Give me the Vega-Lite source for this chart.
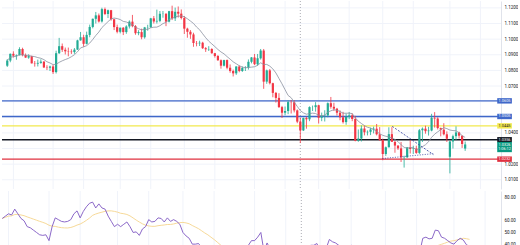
{
"$schema":"https://vega.github.io/schema/vega-lite/v6.json",
"background":"white","padding":0,"spacing":0,
"config":{"view":{"stroke":null},"font":"Roboto","text":{"font":"Roboto"},"axis":{"labelFont":"Roboto"}},
"datasets":{
"k":[
{"i":-1,"o":1.0830,"h":1.0872,"l":1.0822,"c":1.0863,"r":62},
{"i":0,"o":1.0863,"h":1.0908,"l":1.0852,"c":1.0906,"r":64},
{"i":1,"o":1.0906,"h":1.0922,"l":1.0882,"c":1.0894,"r":66},
{"i":2,"o":1.0894,"h":1.0902,"l":1.0868,"c":1.0898,"r":65},
{"i":3,"o":1.0898,"h":1.0948,"l":1.0895,"c":1.0937,"r":70},
{"i":4,"o":1.0937,"h":1.0945,"l":1.0890,"c":1.0898,"r":66},
{"i":5,"o":1.0898,"h":1.0908,"l":1.0880,"c":1.0882,"r":62},
{"i":6,"o":1.0882,"h":1.0903,"l":1.0874,"c":1.0891,"r":60},
{"i":7,"o":1.0891,"h":1.0894,"l":1.0844,"c":1.0845,"r":55},
{"i":8,"o":1.0845,"h":1.0860,"l":1.0824,"c":1.0843,"r":54},
{"i":9,"o":1.0843,"h":1.0869,"l":1.0825,"c":1.0848,"r":52},
{"i":10,"o":1.0848,"h":1.0871,"l":1.0842,"c":1.0856,"r":50},
{"i":11,"o":1.0856,"h":1.0859,"l":1.0815,"c":1.0819,"r":48},
{"i":12,"o":1.0819,"h":1.0833,"l":1.0802,"c":1.0817,"r":47.5},
{"i":13,"o":1.0817,"h":1.0830,"l":1.0796,"c":1.0825,"r":48},
{"i":14,"o":1.0825,"h":1.0834,"l":1.0777,"c":1.0789,"r":43},
{"i":15,"o":1.0789,"h":1.0926,"l":1.0780,"c":1.0910,"r":55},
{"i":16,"o":1.0910,"h":1.1008,"l":1.0905,"c":1.0955,"r":62.5},
{"i":17,"o":1.0955,"h":1.0972,"l":1.0918,"c":1.0932,"r":61},
{"i":18,"o":1.0932,"h":1.0946,"l":1.0902,"c":1.0922,"r":59.5},
{"i":19,"o":1.0922,"h":1.0946,"l":1.0890,"c":1.0920,"r":59},
{"i":20,"o":1.0920,"h":1.0935,"l":1.0905,"c":1.0917,"r":59.5},
{"i":21,"o":1.0917,"h":1.0943,"l":1.0906,"c":1.0933,"r":61},
{"i":22,"o":1.0933,"h":1.0996,"l":1.0931,"c":1.0992,"r":66},
{"i":23,"o":1.0992,"h":1.1046,"l":1.0990,"c":1.1012,"r":68.5},
{"i":24,"o":1.1012,"h":1.1028,"l":1.0951,"c":1.0970,"r":62.5},
{"i":25,"o":1.0970,"h":1.1048,"l":1.0966,"c":1.1027,"r":68},
{"i":26,"o":1.1027,"h":1.1093,"l":1.1012,"c":1.1078,"r":72},
{"i":27,"o":1.1078,"h":1.1132,"l":1.1069,"c":1.1130,"r":75},
{"i":28,"o":1.1130,"h":1.1174,"l":1.1100,"c":1.1152,"r":76},
{"i":29,"o":1.1152,"h":1.1164,"l":1.1106,"c":1.1113,"r":71},
{"i":30,"o":1.1113,"h":1.1201,"l":1.1106,"c":1.1192,"r":74.5},
{"i":31,"o":1.1192,"h":1.1202,"l":1.1154,"c":1.1161,"r":71},
{"i":32,"o":1.1161,"h":1.1189,"l":1.1135,"c":1.1185,"r":70},
{"i":33,"o":1.1185,"h":1.1187,"l":1.1118,"c":1.1127,"r":64},
{"i":34,"o":1.1127,"h":1.1130,"l":1.1058,"c":1.1077,"r":59.5},
{"i":35,"o":1.1077,"h":1.1093,"l":1.1037,"c":1.1047,"r":55},
{"i":36,"o":1.1047,"h":1.1074,"l":1.1037,"c":1.1073,"r":57},
{"i":37,"o":1.1073,"h":1.1077,"l":1.1026,"c":1.1045,"r":55},
{"i":38,"o":1.1045,"h":1.1089,"l":1.1034,"c":1.1081,"r":57},
{"i":39,"o":1.1081,"h":1.1120,"l":1.1068,"c":1.1112,"r":59},
{"i":40,"o":1.1112,"h":1.1155,"l":1.1076,"c":1.1083,"r":55},
{"i":41,"o":1.1083,"h":1.1090,"l":1.1028,"c":1.1038,"r":50},
{"i":42,"o":1.1038,"h":1.1057,"l":1.1025,"c":1.1045,"r":50.5},
{"i":43,"o":1.1045,"h":1.1067,"l":1.0999,"c":1.1012,"r":47.5},
{"i":44,"o":1.1012,"h":1.1078,"l":1.1003,"c":1.1075,"r":53},
{"i":45,"o":1.1075,"h":1.1092,"l":1.1054,"c":1.1076,"r":55},
{"i":46,"o":1.1076,"h":1.1136,"l":1.1072,"c":1.1133,"r":61},
{"i":47,"o":1.1133,"h":1.1148,"l":1.1100,"c":1.1113,"r":59},
{"i":48,"o":1.1113,"h":1.1189,"l":1.1100,"c":1.1117,"r":59.5},
{"i":49,"o":1.1117,"h":1.1180,"l":1.1108,"c":1.1162,"r":62.5},
{"i":50,"o":1.1162,"h":1.1180,"l":1.1137,"c":1.1163,"r":62},
{"i":51,"o":1.1163,"h":1.1164,"l":1.1083,"c":1.1112,"r":59},
{"i":52,"o":1.1112,"h":1.1181,"l":1.1107,"c":1.1179,"r":62.5},
{"i":53,"o":1.1179,"h":1.1214,"l":1.1122,"c":1.1133,"r":59.5},
{"i":54,"o":1.1133,"h":1.1202,"l":1.1116,"c":1.1175,"r":61},
{"i":55,"o":1.1175,"h":1.1209,"l":1.1138,"c":1.1163,"r":59.5},
{"i":56,"o":1.1163,"h":1.1190,"l":1.1126,"c":1.1135,"r":57},
{"i":57,"o":1.1135,"h":1.1148,"l":1.1033,"c":1.1067,"r":50},
{"i":58,"o":1.1067,"h":1.1073,"l":1.1009,"c":1.1047,"r":47},
{"i":59,"o":1.1047,"h":1.1058,"l":1.1002,"c":1.1030,"r":45},
{"i":60,"o":1.1030,"h":1.1041,"l":1.0951,"c":1.0975,"r":40},
{"i":61,"o":1.0975,"h":1.0988,"l":1.0954,"c":1.0973,"r":40},
{"i":62,"o":1.0973,"h":1.0990,"l":1.0956,"c":1.0977,"r":40.5},
{"i":63,"o":1.0977,"h":1.0983,"l":1.0937,"c":1.0942,"r":37},
{"i":64,"o":1.0942,"h":1.0949,"l":1.0918,"c":1.0935,"r":36},
{"i":65,"o":1.0935,"h":1.0955,"l":1.0924,"c":1.0937,"r":36.5},
{"i":66,"o":1.0937,"h":1.0942,"l":1.0906,"c":1.0910,"r":34},
{"i":67,"o":1.0910,"h":1.0912,"l":1.0882,"c":1.0892,"r":32},
{"i":68,"o":1.0892,"h":1.0898,"l":1.0861,"c":1.0865,"r":30},
{"i":69,"o":1.0865,"h":1.0870,"l":1.0811,"c":1.0830,"r":27},
{"i":70,"o":1.0830,"h":1.0868,"l":1.0825,"c":1.0866,"r":33},
{"i":71,"o":1.0866,"h":1.0870,"l":1.0807,"c":1.0817,"r":29},
{"i":72,"o":1.0817,"h":1.0838,"l":1.0785,"c":1.0796,"r":27},
{"i":73,"o":1.0796,"h":1.0805,"l":1.0761,"c":1.0781,"r":26},
{"i":74,"o":1.0781,"h":1.0826,"l":1.0771,"c":1.0825,"r":33},
{"i":75,"o":1.0825,"h":1.0832,"l":1.0788,"c":1.0796,"r":30},
{"i":76,"o":1.0796,"h":1.0825,"l":1.0790,"c":1.0816,"r":33},
{"i":77,"o":1.0816,"h":1.0827,"l":1.0796,"c":1.0818,"r":33.5},
{"i":78,"o":1.0818,"h":1.0870,"l":1.0805,"c":1.0855,"r":39},
{"i":79,"o":1.0855,"h":1.0885,"l":1.0845,"c":1.0883,"r":43},
{"i":80,"o":1.0883,"h":1.0905,"l":1.0834,"c":1.0840,"r":43},
{"i":81,"o":1.0840,"h":1.0905,"l":1.0830,"c":1.0877,"r":46},
{"i":82,"o":1.0877,"h":1.0937,"l":1.0869,"c":1.0927,"r":50},
{"i":83,"o":1.0927,"h":1.0937,"l":1.0682,"c":1.0728,"r":34},
{"i":84,"o":1.0728,"h":1.0805,"l":1.0714,"c":1.0800,"r":41},
{"i":85,"o":1.0800,"h":1.0809,"l":1.0710,"c":1.0718,"r":36},
{"i":86,"o":1.0718,"h":1.0721,"l":1.0628,"c":1.0656,"r":31},
{"i":87,"o":1.0656,"h":1.0662,"l":1.0594,"c":1.0624,"r":29},
{"i":88,"o":1.0624,"h":1.0654,"l":1.0560,"c":1.0565,"r":25},
{"i":89,"o":1.0565,"h":1.0573,"l":1.0496,"c":1.0529,"r":23},
{"i":90,"o":1.0529,"h":1.0569,"l":1.0513,"c":1.0540,"r":25},
{"i":91,"o":1.0540,"h":1.0608,"l":1.0520,"c":1.0597,"r":32},
{"i":92,"o":1.0597,"h":1.0610,"l":1.0524,"c":1.0596,"r":32},
{"i":93,"o":1.0596,"h":1.0609,"l":1.0531,"c":1.0544,"r":29},
{"i":94,"o":1.0544,"h":1.0550,"l":1.0462,"c":1.0472,"r":25},
{"i":95,"o":1.0472,"h":1.0498,"l":1.0335,"c":1.0416,"r":22},
{"i":96,"o":1.0416,"h":1.0498,"l":1.0412,"c":1.0495,"r":31},
{"i":97,"o":1.0495,"h":1.0505,"l":1.0427,"c":1.0487,"r":30.5},
{"i":98,"o":1.0487,"h":1.0570,"l":1.0475,"c":1.0565,"r":39},
{"i":99,"o":1.0565,"h":1.0575,"l":1.0540,"c":1.0565,"r":39},
{"i":100,"o":1.0565,"h":1.0597,"l":1.0536,"c":1.0577,"r":40.5},
{"i":101,"o":1.0577,"h":1.0580,"l":1.0460,"c":1.0497,"r":35},
{"i":102,"o":1.0497,"h":1.0530,"l":1.0475,"c":1.0510,"r":36.5},
{"i":103,"o":1.0510,"h":1.0545,"l":1.0473,"c":1.0512,"r":36.5},
{"i":104,"o":1.0512,"h":1.0595,"l":1.0500,"c":1.0590,"r":44},
{"i":105,"o":1.0590,"h":1.0630,"l":1.0555,"c":1.0567,"r":42},
{"i":106,"o":1.0567,"h":1.0593,"l":1.0540,"c":1.0555,"r":41},
{"i":107,"o":1.0555,"h":1.0560,"l":1.0511,"c":1.0529,"r":39},
{"i":108,"o":1.0529,"h":1.0544,"l":1.0481,"c":1.0500,"r":37},
{"i":109,"o":1.0500,"h":1.0535,"l":1.0460,"c":1.0469,"r":35},
{"i":110,"o":1.0469,"h":1.0524,"l":1.0452,"c":1.0502,"r":38},
{"i":111,"o":1.0502,"h":1.0534,"l":1.0488,"c":1.0512,"r":39},
{"i":112,"o":1.0512,"h":1.0525,"l":1.0475,"c":1.0489,"r":38},
{"i":113,"o":1.0489,"h":1.0509,"l":1.0346,"c":1.0350,"r":29},
{"i":114,"o":1.0350,"h":1.0422,"l":1.0343,"c":1.0364,"r":30.5},
{"i":115,"o":1.0364,"h":1.0448,"l":1.0345,"c":1.0428,"r":37},
{"i":116,"o":1.0428,"h":1.0447,"l":1.0384,"c":1.0404,"r":35.5},
{"i":117,"o":1.0404,"h":1.0416,"l":1.0384,"c":1.0407,"r":35.5},
{"i":118,"o":1.0407,"h":1.0433,"l":1.0386,"c":1.0422,"r":37},
{"i":119,"o":1.0422,"h":1.0440,"l":1.0397,"c":1.0427,"r":37.5},
{"i":120,"o":1.0427,"h":1.0457,"l":1.0384,"c":1.0391,"r":35},
{"i":121,"o":1.0391,"h":1.0437,"l":1.0350,"c":1.0354,"r":32},
{"i":122,"o":1.0354,"h":1.0363,"l":1.0225,"c":1.0265,"r":26},
{"i":123,"o":1.0265,"h":1.0313,"l":1.0253,"c":1.0308,"r":31},
{"i":124,"o":1.0308,"h":1.0436,"l":1.0307,"c":1.0392,"r":39},
{"i":125,"o":1.0392,"h":1.0437,"l":1.0343,"c":1.0343,"r":35},
{"i":126,"o":1.0343,"h":1.0347,"l":1.0273,"c":1.0319,"r":33.5},
{"i":127,"o":1.0319,"h":1.0320,"l":1.0291,"c":1.0301,"r":32.5},
{"i":128,"o":1.0301,"h":1.0342,"l":1.0214,"c":1.0243,"r":29},
{"i":129,"o":1.0243,"h":1.0254,"l":1.0178,"c":1.0244,"r":29},
{"i":130,"o":1.0244,"h":1.0310,"l":1.0240,"c":1.0307,"r":35},
{"i":131,"o":1.0307,"h":1.0353,"l":1.0268,"c":1.0297,"r":34.5},
{"i":132,"o":1.0297,"h":1.0318,"l":1.0265,"c":1.0300,"r":35},
{"i":133,"o":1.0300,"h":1.0318,"l":1.0266,"c":1.0272,"r":33},
{"i":134,"o":1.0272,"h":1.0425,"l":1.0264,"c":1.0417,"r":45},
{"i":135,"o":1.0417,"h":1.0435,"l":1.0342,"c":1.0427,"r":46},
{"i":136,"o":1.0427,"h":1.0446,"l":1.0395,"c":1.0411,"r":44.5},
{"i":137,"o":1.0411,"h":1.0439,"l":1.0383,"c":1.0415,"r":45},
{"i":138,"o":1.0415,"h":1.0522,"l":1.0410,"c":1.0496,"r":52},
{"i":139,"o":1.0496,"h":1.0533,"l":1.0434,"c":1.0492,"r":51.5},
{"i":140,"o":1.0492,"h":1.0500,"l":1.0422,"c":1.0431,"r":46},
{"i":141,"o":1.0431,"h":1.0434,"l":1.0378,"c":1.0421,"r":45},
{"i":142,"o":1.0421,"h":1.0462,"l":1.0384,"c":1.0391,"r":43},
{"i":143,"o":1.0391,"h":1.0410,"l":1.0342,"c":1.0363,"r":41},
{"i":144,"o":1.0247,"h":1.0348,"l":1.0141,"c":1.0345,"r":40},
{"i":145,"o":1.0345,"h":1.0389,"l":1.0300,"c":1.0379,"r":43},
{"i":146,"o":1.0379,"h":1.0442,"l":1.0354,"c":1.0403,"r":45},
{"i":147,"o":1.0403,"h":1.0408,"l":1.0364,"c":1.0382,"r":43.5},
{"i":148,"o":1.0382,"h":1.0383,"l":1.0304,"c":1.0329,"r":39.5},
{"i":149,"o":1.0300,"h":1.0345,"l":1.0285,"c":1.0326,"r":38}
],
"gy":[{"p":1.01},{"p":1.02},{"p":1.03},{"p":1.04},{"p":1.05},{"p":1.06},{"p":1.07},{"p":1.08},{"p":1.09},{"p":1.10},{"p":1.11},{"p":1.12}],
"gx":[{"i":1},{"i":14},{"i":24},{"i":36},{"i":46},{"i":57},{"i":67},{"i":80},{"i":90},{"i":101},{"i":111},{"i":122},{"i":132},{"i":144},{"i":154}],
"vd":[{"i":95}],
"lv":[{"n":"b1","p":1.0605},{"n":"b2","p":1.0505},{"n":"y","p":1.0445},{"n":"k","p":1.0356},{"n":"r","p":1.0232}],
"lb":[{"n":"b1","p":1.0605,"t":"1.0605"},{"n":"b2","p":1.0505,"t":"1.0505"},{"n":"y","p":1.0445,"t":"1.0445"},{"n":"k","p":1.0356,"t":"1.0356"},{"n":"cur","p":1.0325,"t":"1.0326"},{"n":"cnt","p":1.0294,"t":"1:06:12"},{"n":"r","p":1.0232,"t":"1.0232"}],
"tr":[{"k":"a","i1":125.1,"p1":1.0442,"i2":138.6,"p2":1.0261},{"k":"b","i1":121.9,"p1":1.0236,"i2":138.6,"p2":1.0267}]
},
"vconcat":[
{"width":499,"height":188,
"resolve":{"axis":{"y":"independent"}},
"layer":[
{"data":{"name":"gy"},"mark":{"type":"rule","color":"#f0f3fa","strokeWidth":1},
 "encoding":{"y":{"field":"p","type":"quantitative","scale":{"domain":[1.0073,1.1212],"nice":false,"zero":false},
  "axis":{"orient":"right","values":[1.01,1.02,1.04,1.07,1.08,1.09,1.1,1.11,1.12],"format":".4f","title":null,"grid":false,"ticks":false,"domain":true,"domainColor":"#e0e3eb","labelFontSize":4.5,"labelColor":"#131722","labelPadding":3,"labelOverlap":false}}}},
{"data":{"name":"gx"},"mark":{"type":"rule","color":"#f0f3fa","strokeWidth":1},
 "encoding":{"x":{"field":"i","type":"quantitative","scale":{"domain":[-1.09,159.1],"nice":false,"zero":false},"axis":null}}},
{"data":{"name":"vd"},"mark":{"type":"rule","color":"#9598a1","strokeWidth":0.8,"strokeDash":[1,2]},
 "encoding":{"x":{"field":"i","type":"quantitative","axis":null}}},
{"data":{"name":"lv"},"mark":{"type":"rule","strokeWidth":1.3},
 "encoding":{"y":{"field":"p","type":"quantitative","axis":null},
  "color":{"field":"n","type":"nominal","legend":null,"scale":{"domain":["b1","b2","y","k","cur","cnt","r"],"range":["#3f67c9","#3f67c9","#f2e94e","#131722","#089981","#089981","#e0303f"]}}}},
{"data":{"name":"k"},"mark":{"type":"rule","strokeWidth":0.8},
 "encoding":{"x":{"field":"i","type":"quantitative","axis":null},"y":{"field":"l","type":"quantitative","axis":null},"y2":{"field":"h"},
  "color":{"condition":{"test":"datum.c >= datum.o","value":"#22ab94"},"value":"#f23645"}}},
{"data":{"name":"k"},"mark":{"type":"bar","width":2.2},
 "encoding":{"x":{"field":"i","type":"quantitative","axis":null},"y":{"field":"o","type":"quantitative","axis":null},"y2":{"field":"c"},
  "color":{"condition":{"test":"datum.c >= datum.o","value":"#22ab94"},"value":"#f23645"}}},
{"data":{"name":"k"},"transform":[{"window":[{"op":"mean","field":"c","as":"sma"}],"frame":[-8,0],"sort":[{"field":"i"}]}],
 "mark":{"type":"line","color":"#8a90a0","strokeWidth":0.8},
 "encoding":{"x":{"field":"i","type":"quantitative","axis":null},"y":{"field":"sma","type":"quantitative","axis":null}}},
{"data":{"name":"tr"},"mark":{"type":"rule","color":"#2b3a9c","strokeWidth":0.8},
 "encoding":{"x":{"field":"i1","type":"quantitative","axis":null},"x2":{"field":"i2"},"y":{"field":"p1","type":"quantitative","axis":null},"y2":{"field":"p2"},
  "strokeDash":{"field":"k","type":"nominal","legend":null,"scale":{"domain":["a","b"],"range":[[2,1.5],[1,1.5]]}}}},
{"data":{"name":"lb"},"mark":{"type":"bar","height":5.4},
 "encoding":{"x":{"datum":159.5,"axis":null},"x2":{"datum":164.3},"y":{"field":"p","type":"quantitative","axis":null},
  "color":{"field":"n","type":"nominal","legend":null}}},
{"data":{"name":"lb"},"mark":{"type":"text","fontSize":3.9,"align":"center","baseline":"middle"},
 "encoding":{"x":{"datum":161.9,"axis":null},"y":{"field":"p","type":"quantitative","axis":null},"text":{"field":"t"},
  "color":{"condition":{"test":"datum.n == 'y'","value":"#131722"},"value":"#ffffff"}}},
{"mark":{"type":"rect","fill":"#fff5f5","stroke":"#f23645","strokeWidth":0.6,"cornerRadius":1},
 "encoding":{"x":{"datum":0,"axis":null},"x2":{"datum":4.2},"y":{"datum":1.1211,"axis":null},"y2":{"datum":1.1186}}},
{"mark":{"type":"rect","fill":"#f5f8ff","stroke":"#2962ff","strokeWidth":0.6,"cornerRadius":1},
 "encoding":{"x":{"datum":9.3,"axis":null},"x2":{"datum":13.5},"y":{"datum":1.1211,"axis":null},"y2":{"datum":1.1186}}},
{"mark":{"type":"text","fontSize":4,"align":"left","baseline":"middle","color":"#131722"},
 "encoding":{"x":{"datum":0,"axis":null},"y":{"datum":1.1151,"axis":null},"text":{"value":"SMA 9 close 0 SMA 9"}}},
{"mark":{"type":"text","fontSize":4.8,"align":"center","baseline":"middle","color":"#7e57c2","font":"DejaVu Sans"},
 "encoding":{"x":{"datum":12.8,"axis":null},"y":{"datum":1.1151,"axis":null},"text":{"value":"⚙"}}},
{"mark":{"type":"text","fontSize":4,"align":"left","baseline":"middle","color":"#5b6bd6"},
 "encoding":{"x":{"datum":14.3,"axis":null},"y":{"datum":1.1151,"axis":null},"text":{"value":"1.03497"}}},
{"mark":{"type":"rect","fill":"#ffffff","stroke":"#d1d4dc","strokeWidth":0.5,"cornerRadius":1},
 "encoding":{"x":{"datum":-0.2,"axis":null},"x2":{"datum":2.1},"y":{"datum":1.1115,"axis":null},"y2":{"datum":1.1079}}},
{"mark":{"type":"text","fontSize":4,"align":"center","baseline":"middle","color":"#131722","font":"DejaVu Sans"},
 "encoding":{"x":{"datum":0.95,"axis":null},"y":{"datum":1.1095,"axis":null},"text":{"value":"˄"}}},
{"mark":{"type":"point","filled":true,"size":55,"color":"#2962ff","opacity":1},
 "encoding":{"x":{"datum":153,"axis":null},"y":{"datum":1.0171,"axis":null}}},
{"mark":{"type":"rect","fill":"#fde8ea","stroke":"#f23645","strokeWidth":0.6,"cornerRadius":1.5},
 "encoding":{"x":{"datum":148.2,"axis":null},"x2":{"datum":154},"y":{"datum":1.0133,"axis":null},"y2":{"datum":1.0091}}},
{"mark":{"type":"text","fontSize":3.4,"align":"center","baseline":"middle","color":"#f23645"},
 "encoding":{"x":{"datum":151.1,"axis":null},"y":{"datum":1.0112,"axis":null},"text":{"value":"▴ 3 ▾"}}}
]},
{"width":499,"height":80,
"resolve":{"axis":{"y":"independent"}},
"layer":[
{"data":{"name":"gx"},"mark":{"type":"rule","color":"#f0f3fa","strokeWidth":1},
 "encoding":{"x":{"field":"i","type":"quantitative","scale":{"domain":[-1.09,159.1],"nice":false,"zero":false},"axis":null}}},
{"mark":{"type":"rect","fill":"#7e57c2","opacity":0.1},
 "encoding":{"x":{"datum":-1.09,"axis":null},"x2":{"datum":159.1},"y":{"datum":70,"type":"quantitative","scale":{"domain":[21.25,81.25],"nice":false,"zero":false},
  "axis":{"orient":"right","values":[40,50,60,80],"format":".2f","title":null,"grid":false,"ticks":false,"domain":true,"domainColor":"#e0e3eb","labelFontSize":4.5,"labelColor":"#131722","labelPadding":3,"labelOverlap":false}},"y2":{"datum":30}}},
{"mark":{"type":"rule","color":"#787b86","strokeWidth":0.7,"strokeDash":[2,2]},"encoding":{"y":{"datum":70,"type":"quantitative","axis":null}}},
{"mark":{"type":"rule","color":"#787b86","strokeWidth":0.7,"strokeDash":[2,2]},"encoding":{"y":{"datum":30,"type":"quantitative","axis":null}}},
{"mark":{"type":"rule","color":"#e0e3eb","strokeWidth":0.8},"encoding":{"y":{"datum":81.25,"type":"quantitative","axis":null}}},
{"data":{"name":"vd"},"mark":{"type":"rule","color":"#9598a1","strokeWidth":0.8,"strokeDash":[1,2]},
 "encoding":{"x":{"field":"i","type":"quantitative","axis":null}}},
{"data":{"name":"k"},"transform":[{"window":[{"op":"mean","field":"r","as":"rs"}],"frame":[-13,0],"sort":[{"field":"i"}]}],
 "mark":{"type":"line","color":"#f5d58c","strokeWidth":0.9},
 "encoding":{"x":{"field":"i","type":"quantitative","axis":null},"y":{"field":"rs","type":"quantitative","axis":null}}},
{"data":{"name":"k"},"mark":{"type":"line","color":"#7e57c2","strokeWidth":0.9},
 "encoding":{"x":{"field":"i","type":"quantitative","axis":null},"y":{"field":"r","type":"quantitative","axis":null}}},
{"mark":{"type":"text","fontSize":4,"align":"left","baseline":"middle","color":"#131722"},
 "encoding":{"x":{"datum":0,"axis":null},"y":{"datum":76,"axis":null},"text":{"value":"RSI 14 close SMA 14 2"}}},
{"mark":{"type":"text","fontSize":4.8,"align":"center","baseline":"middle","color":"#7e57c2","font":"DejaVu Sans"},
 "encoding":{"x":{"datum":15.6,"axis":null},"y":{"datum":76,"axis":null},"text":{"value":"⚙"}}},
{"mark":{"type":"text","fontSize":4,"align":"left","baseline":"middle","color":"#7e57c2"},
 "encoding":{"x":{"datum":17.4,"axis":null},"y":{"datum":76,"axis":null},"text":{"value":"36.80"}}},
{"mark":{"type":"text","fontSize":4,"align":"left","baseline":"middle","color":"#e8c53a"},
 "encoding":{"x":{"datum":20.6,"axis":null},"y":{"datum":76,"axis":null},"text":{"value":"44.83"}}},
{"mark":{"type":"text","fontSize":4,"align":"left","baseline":"middle","color":"#787b86","font":"DejaVu Sans"},
 "encoding":{"x":{"datum":23.6,"axis":null},"y":{"datum":76,"axis":null},"text":{"value":"∅ ∅"}}},
{"mark":{"type":"text","fontSize":4.2,"align":"left","baseline":"middle","color":"#9598a1","font":"DejaVu Sans"},
 "encoding":{"x":{"datum":150.4,"axis":null},"y":{"datum":77.5,"axis":null},"text":{"value":"↑ ▢ ▢ ▢"}}},
{"mark":{"type":"bar","height":5.4,"color":"#131722"},
 "encoding":{"x":{"datum":159.5,"axis":null},"x2":{"datum":164.3},"y":{"datum":67,"type":"quantitative","axis":null}}},
{"mark":{"type":"text","fontSize":3.9,"align":"center","baseline":"middle","color":"#ffffff"},
 "encoding":{"x":{"datum":161.9,"axis":null},"y":{"datum":67,"axis":null},"text":{"value":"66.85"}}},
{"mark":{"type":"rect","color":"#131722","cornerRadius":0.5},
 "encoding":{"x":{"datum":157.1,"axis":null},"x2":{"datum":158.6},"y":{"datum":68.9,"axis":null},"y2":{"datum":65.1}}},
{"mark":{"type":"text","fontSize":3.2,"align":"center","baseline":"middle","color":"#ffffff"},
 "encoding":{"x":{"datum":157.85,"axis":null},"y":{"datum":67,"axis":null},"text":{"value":"0"}}}
]}
]
}
